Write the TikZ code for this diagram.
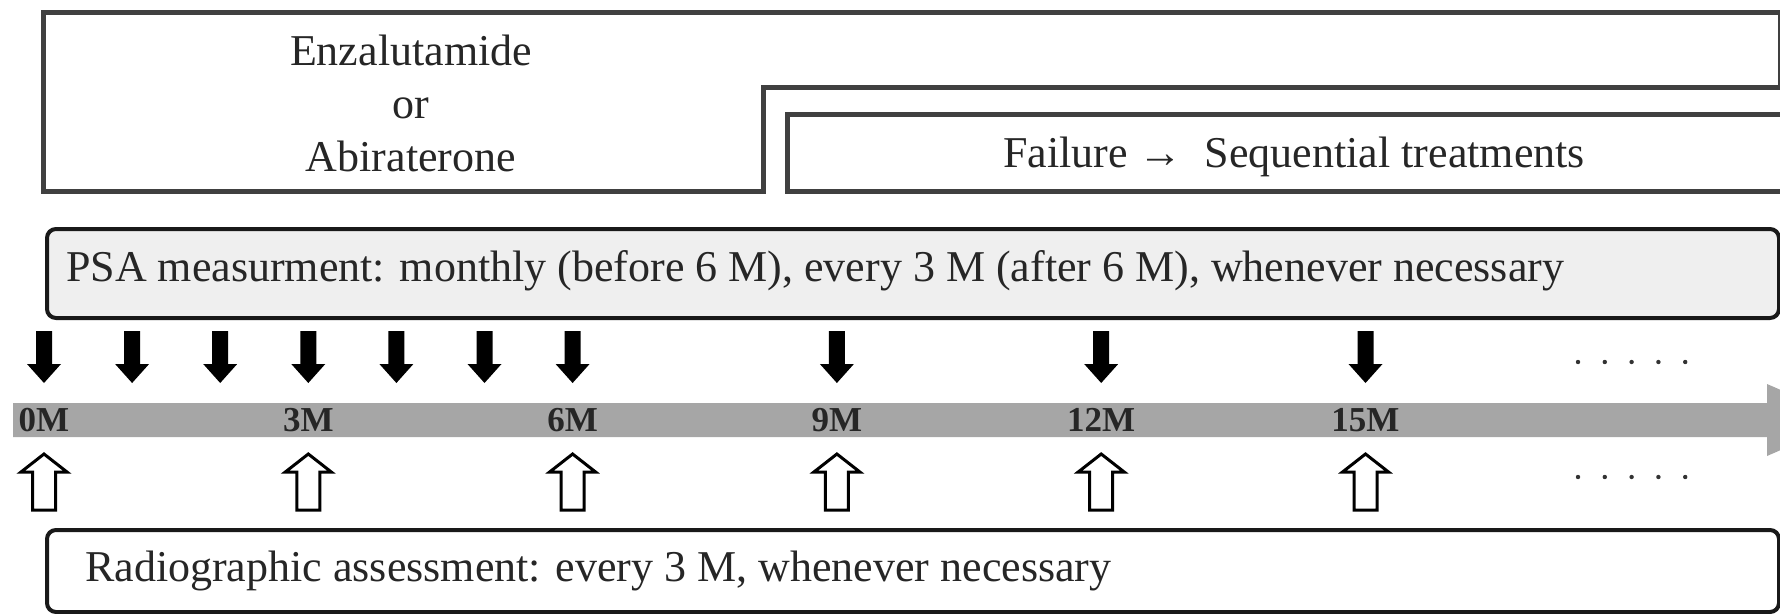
\documentclass[tikz,border=0pt]{standalone}
\usepackage{fontspec}
\setmainfont{Liberation Serif}
\definecolor{framegray}{HTML}{404040}
\definecolor{psafill}{HTML}{EFEFEF}
\definecolor{bargray}{HTML}{A6A6A6}
\begin{document}
\begin{tikzpicture}[x=1pt,y=-1pt,
  frame/.style={draw=framegray, line width=5pt, line join=miter},
  txt/.style={font=\fontsize{44}{53}\selectfont, inner sep=0pt, text=black!85},
  lbl/.style={font=\bfseries\fontsize{35}{40}\selectfont, inner sep=0pt, text=black!85},
  infobox/.style={draw=black!90, line width=4pt, rounded corners=9pt, inner sep=0pt, anchor=north west},
  downarr/.style={fill=black},
  uparr/.style={draw=black, line width=3pt, fill=white, line join=miter}]
\useasboundingbox (0,0) rectangle (1780,613);
\clip (0,0) rectangle (1780,613);
% treatment frame
\draw[frame, fill=white] (43,12.5) -- (1780,12.5) -- (1780,87.5) -- (763,87.5) -- (763,191) -- (43,191) -- cycle;
\draw[frame, fill=white] (787,114.5) rectangle (1800,191);
\node[txt, align=center] (drug) at (411,103) {Enzalutamide\\or\\Abiraterone};
\node[txt] (fail) at (1294,157) {Failure →\ \ Sequential treatments};
% PSA box
\node[infobox, fill=psafill, minimum width=1732pt, minimum height=89pt] (psabox) at (45,227) {};
\node[txt, anchor=west] (psa) at (66,271) {PSA measurment: monthly (before 6 M), every 3 M (after 6 M), whenever necessary};
% Radiographic box
\node[infobox, fill=white, minimum width=1732pt, minimum height=82pt] (radbox) at (45,528) {};
\node[txt, anchor=west] (rad) at (85,571) {Radiographic assessment: every 3 M, whenever necessary};
% timeline bar
\fill[bargray] (13,403) -- (1767,403) -- (1767,384) -- (1850,420) -- (1767,456) -- (1767,437) -- (13,437) -- cycle;
% down arrows
\foreach \m in {0,1,2,3,4,5,6,9,12,15}{
  \pgfmathsetmacro{\xx}{44+88.1*\m}
  \fill[downarr] (\xx-8,331) -- (\xx+8,331) -- (\xx+8,364) -- (\xx+17,364) -- (\xx,383) -- (\xx-17,364) -- (\xx-8,364) -- cycle;
}
% up arrows and labels
\foreach \m in {0,3,6,9,12,15}{
  \pgfmathsetmacro{\xx}{44+88.1*\m}
  \draw[uparr] (\xx,454) -- (\xx+23,472) -- (\xx+11.5,472) -- (\xx+11.5,510) -- (\xx-11.5,510) -- (\xx-11.5,472) -- (\xx-23,472) -- cycle;
  \node[lbl] (lab\m) at (\xx,420) {\m M};
}
% dots
\foreach \i in {0,...,4}{
  \fill[black!80] (1578+26.8*\i,362) circle (2.2);
  \fill[black!80] (1578+26.8*\i,477) circle (2.2);
}
\end{tikzpicture}
\end{document}
